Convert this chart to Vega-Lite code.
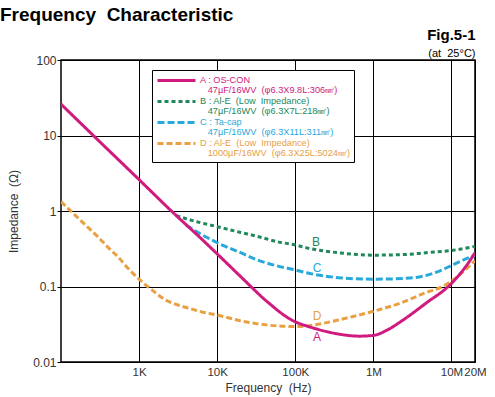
{
  "$schema": "https://vega.github.io/schema/vega-lite/v6.json",
  "width": 414,
  "height": 302,
  "autosize": {"type": "none"},
  "padding": {"left": 61, "top": 60, "right": 20, "bottom": 35},
  "background": "white",
  "config": {
    "font": "Liberation Sans",
    "view": {"stroke": "black", "strokeWidth": 1.5},
    "axis": {"labelFont": "Liberation Sans", "titleFont": "Liberation Sans", "labelColor": "#333", "titleColor": "#333", "titleFontWeight": "normal", "gridColor": "black", "gridOpacity": 1, "gridWidth": 1, "domain": false}
  },
  "title": {"text": "Frequency\u00a0 Characteristic", "anchor": "start", "frame": "group", "dx": -61, "fontSize": 19, "fontWeight": "bold", "font": "Liberation Sans", "color": "black", "offset": 2},
  "datasets": {
    "curves": [
      {"series": "D", "f": 100, "z": 1.33}, {"series": "D", "f": 150, "z": 0.89}, {"series": "D", "f": 200, "z": 0.67}, {"series": "D", "f": 300, "z": 0.45}, {"series": "D", "f": 400, "z": 0.33}, {"series": "D", "f": 550, "z": 0.24}, {"series": "D", "f": 700, "z": 0.18}, {"series": "D", "f": 1000, "z": 0.125}, {"series": "D", "f": 1500, "z": 0.088}, {"series": "D", "f": 2200, "z": 0.066}, {"series": "D", "f": 3300, "z": 0.056}, {"series": "D", "f": 4500, "z": 0.051}, {"series": "D", "f": 6400, "z": 0.046}, {"series": "D", "f": 10000, "z": 0.042}, {"series": "D", "f": 20000, "z": 0.035}, {"series": "D", "f": 33000, "z": 0.032}, {"series": "D", "f": 60000, "z": 0.030}, {"series": "D", "f": 100000, "z": 0.0295}, {"series": "D", "f": 174000, "z": 0.031}, {"series": "D", "f": 355000, "z": 0.036}, {"series": "D", "f": 600000, "z": 0.041}, {"series": "D", "f": 1000000, "z": 0.047}, {"series": "D", "f": 2000000, "z": 0.058}, {"series": "D", "f": 4700000, "z": 0.083}, {"series": "D", "f": 7700000, "z": 0.1}, {"series": "D", "f": 10000000, "z": 0.118}, {"series": "D", "f": 20000000, "z": 0.22},
      {"series": "C", "f": 4000, "z": 0.65}, {"series": "C", "f": 5500, "z": 0.53}, {"series": "C", "f": 7000, "z": 0.46}, {"series": "C", "f": 10000, "z": 0.38}, {"series": "C", "f": 20000, "z": 0.28}, {"series": "C", "f": 33000, "z": 0.224}, {"series": "C", "f": 60000, "z": 0.186}, {"series": "C", "f": 100000, "z": 0.166}, {"series": "C", "f": 140000, "z": 0.152}, {"series": "C", "f": 355000, "z": 0.131}, {"series": "C", "f": 1000000, "z": 0.125}, {"series": "C", "f": 2500000, "z": 0.128}, {"series": "C", "f": 4700000, "z": 0.14}, {"series": "C", "f": 7000000, "z": 0.16}, {"series": "C", "f": 10000000, "z": 0.19}, {"series": "C", "f": 15000000, "z": 0.23}, {"series": "C", "f": 20000000, "z": 0.26},
      {"series": "B", "f": 3000, "z": 0.87}, {"series": "B", "f": 4000, "z": 0.79}, {"series": "B", "f": 5500, "z": 0.72}, {"series": "B", "f": 10000, "z": 0.62}, {"series": "B", "f": 20000, "z": 0.52}, {"series": "B", "f": 33000, "z": 0.46}, {"series": "B", "f": 60000, "z": 0.39}, {"series": "B", "f": 100000, "z": 0.355}, {"series": "B", "f": 140000, "z": 0.325}, {"series": "B", "f": 355000, "z": 0.28}, {"series": "B", "f": 1000000, "z": 0.26}, {"series": "B", "f": 2500000, "z": 0.265}, {"series": "B", "f": 4700000, "z": 0.28}, {"series": "B", "f": 10000000, "z": 0.30}, {"series": "B", "f": 20000000, "z": 0.34},
      {"series": "A", "f": 100, "z": 26}, {"series": "A", "f": 270, "z": 9.6}, {"series": "A", "f": 1000, "z": 2.6}, {"series": "A", "f": 2700, "z": 0.96}, {"series": "A", "f": 6400, "z": 0.42}, {"series": "A", "f": 10000, "z": 0.27}, {"series": "A", "f": 20000, "z": 0.135}, {"series": "A", "f": 29000, "z": 0.093}, {"series": "A", "f": 40000, "z": 0.068}, {"series": "A", "f": 49000, "z": 0.057}, {"series": "A", "f": 71000, "z": 0.042}, {"series": "A", "f": 100000, "z": 0.034}, {"series": "A", "f": 140000, "z": 0.030}, {"series": "A", "f": 174000, "z": 0.028}, {"series": "A", "f": 355000, "z": 0.0235}, {"series": "A", "f": 660000, "z": 0.022}, {"series": "A", "f": 1000000, "z": 0.0225}, {"series": "A", "f": 1500000, "z": 0.0265}, {"series": "A", "f": 2400000, "z": 0.036}, {"series": "A", "f": 4700000, "z": 0.06}, {"series": "A", "f": 10000000, "z": 0.11}, {"series": "A", "f": 15000000, "z": 0.18}, {"series": "A", "f": 20000000, "z": 0.28}
    ],
    "tags": [
      {"series": "A", "f": 190000, "z": 0.0214},
      {"series": "B", "f": 184000, "z": 0.39},
      {"series": "C", "f": 190000, "z": 0.177},
      {"series": "D", "f": 190000, "z": 0.041}
    ]
  },
  "layer": [
    {
      "data": {"name": "curves"},
      "mark": {"type": "line", "strokeWidth": 3, "interpolate": "monotone", "clip": true},
      "encoding": {
        "x": {"field": "f", "type": "quantitative", "scale": {"type": "log", "domain": [100, 20000000], "nice": false},
          "axis": {"values": [1000, 10000, 100000, 1000000, 10000000, 20000000], "labelExpr": "datum.value >= 1e6 ? format(datum.value/1e6,'d')+'M' : format(datum.value/1e3,'d')+'K'", "ticks": false, "grid": true, "labelFontSize": 11.5, "labelPadding": 4, "labelFlush": false, "labelOverlap": false, "title": "Frequency\u00a0 (Hz)", "titleFontSize": 12, "titlePadding": 5}},
        "y": {"field": "z", "type": "quantitative", "scale": {"type": "log", "domain": [0.01, 100], "nice": false},
          "axis": {"values": [0.01, 0.1, 1, 10, 100], "format": "~g", "tickSize": 4, "tickColor": "black", "labelFontSize": 12, "labelPadding": 1, "labelFlush": false, "grid": true, "title": "Impedance\u00a0 (\u03a9)", "titleFontSize": 12, "titlePadding": 12}},
        "color": {"field": "series", "type": "nominal", "scale": {"domain": ["A", "B", "C", "D"], "range": ["#D01A7E", "#21875C", "#27A9DB", "#E8A043"]},
          "legend": {"orient": "none", "legendX": 91, "legendY": 10, "title": null, "symbolType": "M-3.8,0H3.8", "symbolSize": 100, "symbolStrokeWidth": 3, "symbolOffset": 14, "labelFontSize": 9.2, "labelFont": "Liberation Sans", "labelLimit": 400, "labelOffset": 17, "strokeColor": "black", "fillColor": "white", "padding": 4, "rowPadding": -3.5, "labelBaseline": "top",
            "labelExpr": "datum.value == 'A' ? ['A : OS-CON', '\u200b\u00a0\u00a0\u00a047\u00b5F/16WV\u00a0 (\u03c66.3X9.8L:306\u33a3)'] : datum.value == 'B' ? ['B : Al-E\u00a0 (Low\u00a0 Impedance)', '\u200b\u00a0\u00a0\u00a047\u00b5F/16WV\u00a0 (\u03c66.3X7L:218\u33a3)'] : datum.value == 'C' ? ['C : Ta-cap', '\u200b\u00a0\u00a0\u00a047\u00b5F/16WV\u00a0 (\u03c66.3X11L:311\u33a3)'] : ['D : Al-E\u00a0 (Low\u00a0 Impedance)', '\u200b\u00a0\u00a0\u00a01000\u00b5F/16WV\u00a0 (\u03c66.3X25L:5024\u33a3)']",
            "encode": {"labels": {"update": {"fill": {"signal": "scale('color', datum.value)"}, "lineHeight": {"value": 10.3}, "dy": {"value": -5}}}}}},
        "strokeDash": {"field": "series", "type": "nominal", "scale": {"domain": ["A", "B", "C", "D"], "range": [[1, 0], [4, 3], [7, 3], [6, 3]]},
          "legend": {"orient": "none", "legendX": 91, "legendY": 10, "title": null, "symbolType": "M-3.8,0H3.8", "symbolSize": 100, "symbolStrokeWidth": 3, "symbolOffset": 14, "labelFontSize": 9.2, "labelFont": "Liberation Sans", "labelLimit": 400, "labelOffset": 17, "strokeColor": "black", "fillColor": "white", "padding": 4, "rowPadding": -3.5, "labelBaseline": "top",
            "labelExpr": "datum.value == 'A' ? ['A : OS-CON', '\u200b\u00a0\u00a0\u00a047\u00b5F/16WV\u00a0 (\u03c66.3X9.8L:306\u33a3)'] : datum.value == 'B' ? ['B : Al-E\u00a0 (Low\u00a0 Impedance)', '\u200b\u00a0\u00a0\u00a047\u00b5F/16WV\u00a0 (\u03c66.3X7L:218\u33a3)'] : datum.value == 'C' ? ['C : Ta-cap', '\u200b\u00a0\u00a0\u00a047\u00b5F/16WV\u00a0 (\u03c66.3X11L:311\u33a3)'] : ['D : Al-E\u00a0 (Low\u00a0 Impedance)', '\u200b\u00a0\u00a0\u00a01000\u00b5F/16WV\u00a0 (\u03c66.3X25L:5024\u33a3)']",
            "encode": {"labels": {"update": {"fill": {"signal": "scale('color', datum.value)"}, "lineHeight": {"value": 10.3}, "dy": {"value": -5}}}}}}
      }
    },
    {
      "data": {"name": "tags"},
      "mark": {"type": "text", "fontSize": 12, "font": "Liberation Sans"},
      "encoding": {
        "x": {"field": "f", "type": "quantitative",
          "axis": {"orient": "top", "values": [20000000], "labelExpr": "'(at\u00a0 25\u00b0C)'", "labelAlign": "right", "labelFlush": false, "ticks": false, "grid": false, "domain": false, "labelFontSize": 11, "labelColor": "black", "labelPadding": 2, "title": "Fig.5-1", "titleAnchor": "end", "titleFontSize": 15, "titleFontWeight": "bold", "titleColor": "black", "titlePadding": 5}},
        "y": {"field": "z", "type": "quantitative"},
        "text": {"field": "series"},
        "color": {"field": "series", "type": "nominal"}
      }
    }
  ],
  "resolve": {"axis": {"x": "independent"}}
}
